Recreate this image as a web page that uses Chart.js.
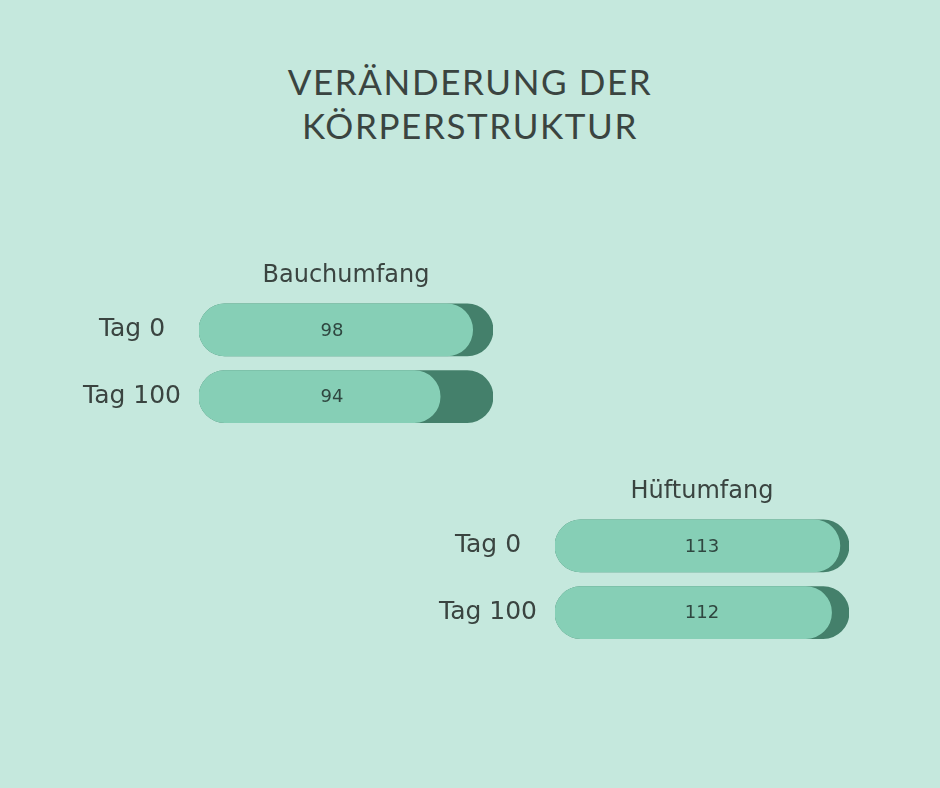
<!DOCTYPE html>
<html>
<head>
<meta charset="utf-8">
<script src="https://cdn.jsdelivr.net/npm/chart.js@4.4.1/dist/chart.umd.min.js"></script>
<style>
  html, body { margin:0; padding:0; width:940px; height:788px; background:#c5e8dd; overflow:hidden; }
  #title { position:absolute; left:0; top:59px; width:940px; text-align:center; font-family:"Lato", sans-serif;
           font-size:35px; line-height:44px; letter-spacing:1.6px; color:#3a4440; font-weight:400; }
  canvas { position:absolute; }
</style>
</head>
<body>
<div id="title">VERÄNDERUNG DER<br>KÖRPERSTRUKTUR</div>
<canvas id="c1" width="572" height="213" style="left:60px; top:250px; width:572px; height:213px;"></canvas>
<canvas id="c2" width="572" height="213" style="left:416px; top:466px; width:572px; height:213px;"></canvas>
<script>
// ---- data ----
const categories = ["Tag 0", "Tag 100"];
const bauchTitle = "Bauchumfang";
const bauchValues = [98, 94];
const hueftTitle = "Hüftumfang";
const hueftValues = [113, 112];
// scale ranges (track end = scale max)
const bauchRange = [64.35, 100.5];
const hueftRange = [78.7, 114.1];

const colLight = "#86cfb6";
const colDark = "#44806b";
const colText = "#3a4440";
const fontFam = "'DejaVu Sans', sans-serif";

const decorations = {
  id: "decorations",
  afterDatasetsDraw(chart, args, opts) {
    const {ctx, chartArea} = chart;
    const meta = chart.getDatasetMeta(0);
    ctx.save();
    // value labels
    ctx.font = "18px " + fontFam;
    ctx.fillStyle = "#2f4740";
    ctx.textAlign = "center";
    ctx.textBaseline = "middle";
    const x = chartArea.left + (chartArea.right - chartArea.left) * opts.frac;
    meta.data.forEach((bar, i) => {
      ctx.fillText(String(opts.values[i]), x, bar.y + 1);
    });
    // chart title centred over the bars
    ctx.font = "24px " + fontFam;
    ctx.fillStyle = colText;
    ctx.textBaseline = "alphabetic";
    ctx.fillText(opts.title, (chartArea.left + chartArea.right) / 2, chartArea.top - 15);
    ctx.restore();
  }
};

function makeChart(id, title, values, range, frac) {
  return new Chart(document.getElementById(id), {
    type: "bar",
    data: {
      labels: categories,
      datasets: [
        { data: values.map(v => [range[0], v]), backgroundColor: colLight, borderRadius: 26, borderSkipped: false, barThickness: 52, grouped: false },
        { data: categories.map(() => [range[0], range[1]]), backgroundColor: colDark, borderRadius: 26, borderSkipped: false, barThickness: 52, grouped: false }
      ]
    },
    options: {
      indexAxis: "y",
      responsive: false,
      animation: false,
      devicePixelRatio: 1,
      layout: { padding: { left: 0, right: 139, top: 46.6, bottom: 0 } },
      plugins: {
        legend: { display: false },
        tooltip: { enabled: false },
        title: { display: false },
        decorations: { frac: frac, values: values, title: title }
      },
      scales: {
        x: { display: false, min: range[0], max: range[1] },
        y: {
          grid: { display: false, drawTicks: false },
          border: { display: false },
          ticks: { color: colText, crossAlign: "center", padding: 18,
                   font: { family: fontFam, size: 25 } },
          afterFit(s) { s.width = 139; }
        }
      }
    },
    plugins: [decorations]
  });
}

makeChart("c1", bauchTitle, bauchValues, bauchRange, 0.452);
makeChart("c2", hueftTitle, hueftValues, hueftRange, 0.5);
</script>
</body>
</html>
